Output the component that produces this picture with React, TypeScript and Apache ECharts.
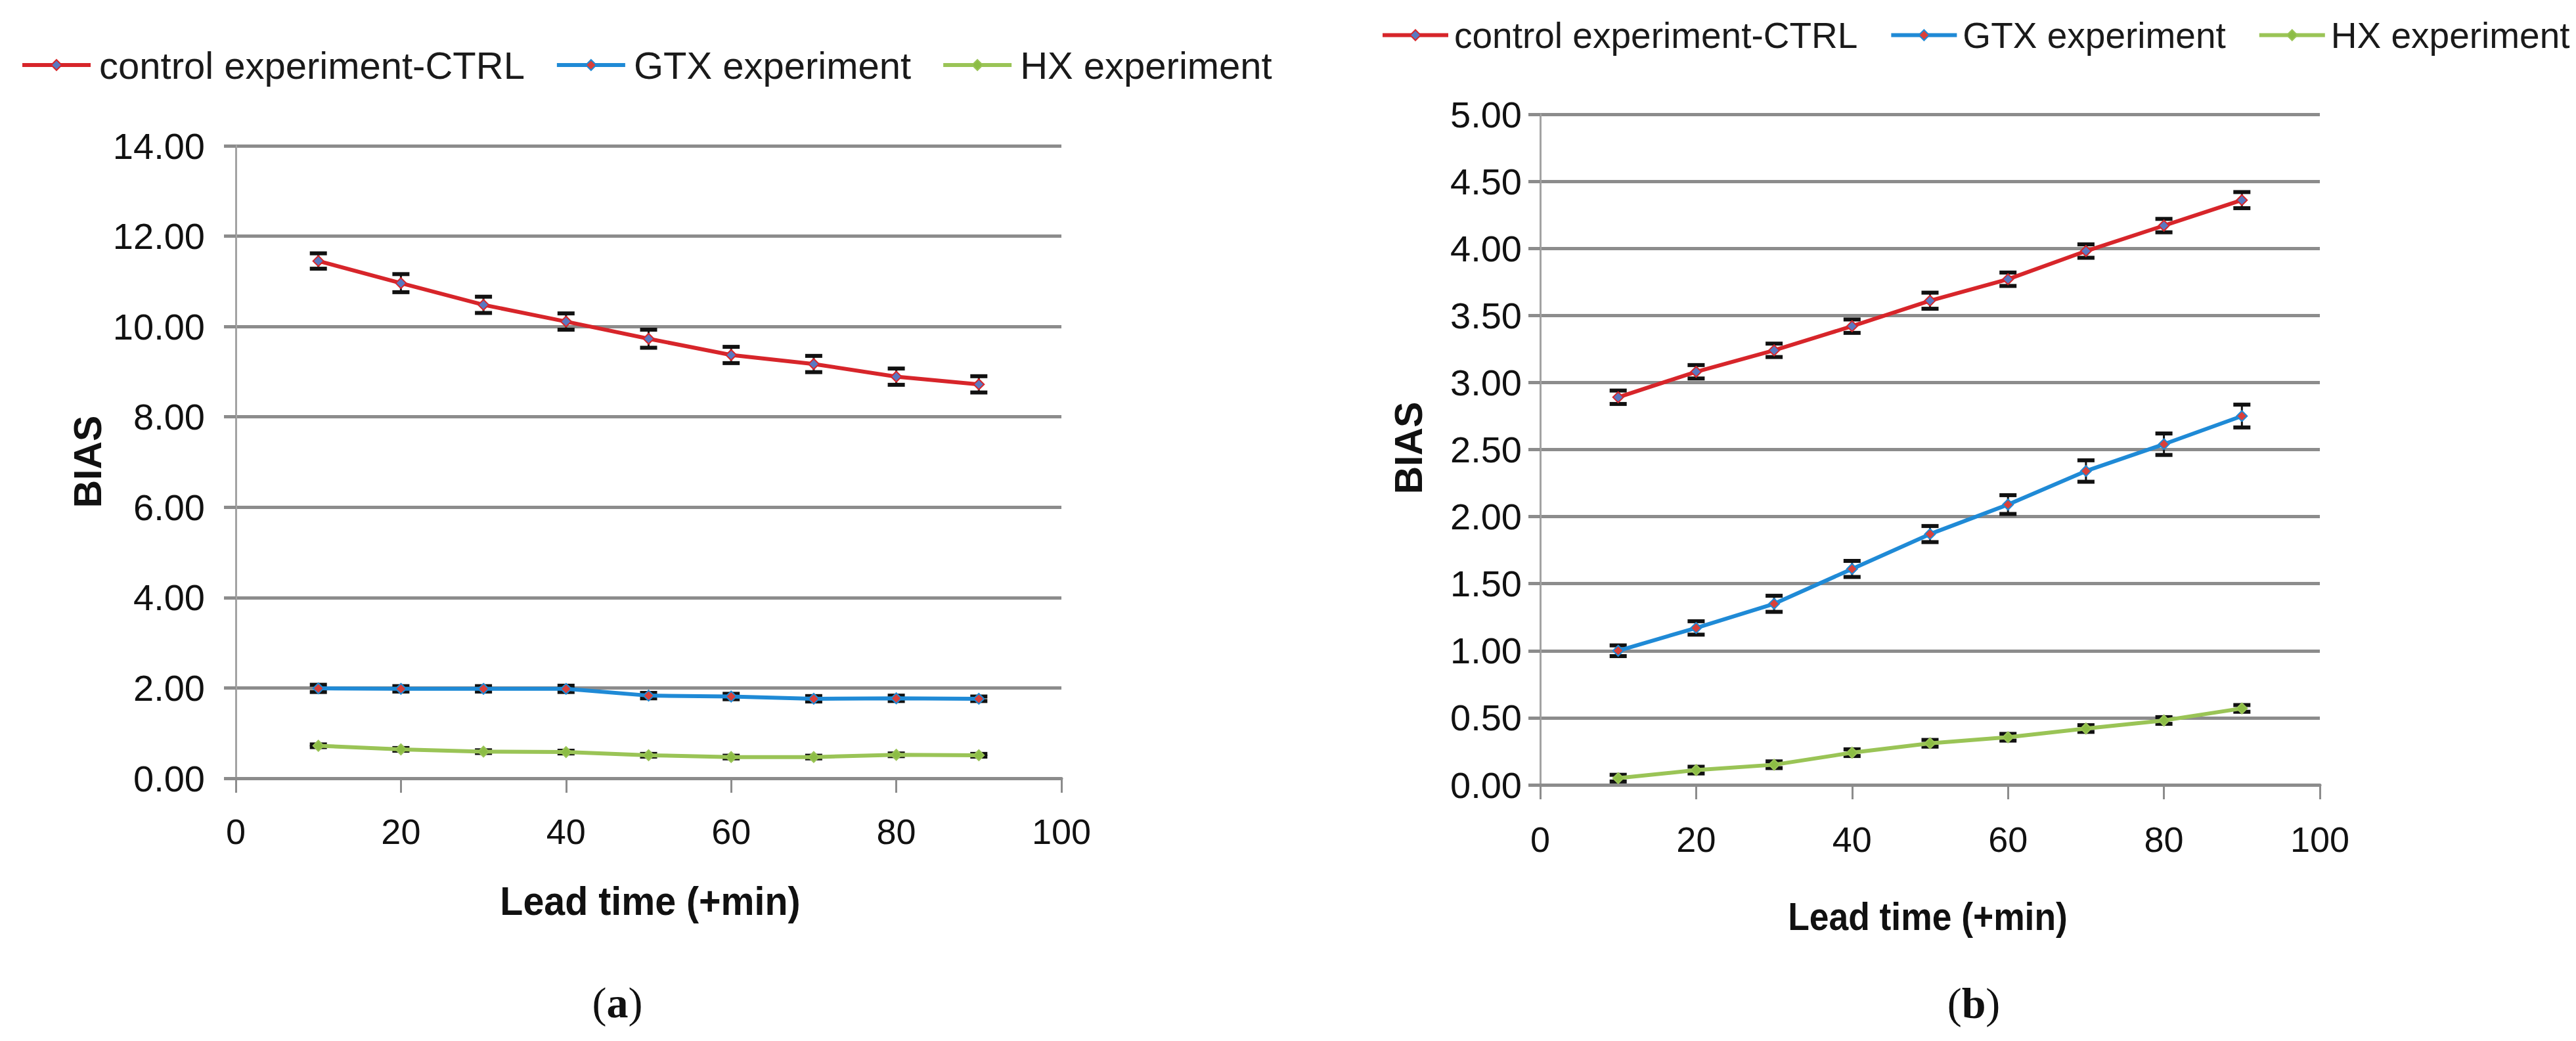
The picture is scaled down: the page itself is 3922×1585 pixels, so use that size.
import React, { useEffect, useRef } from "react";
import * as echarts from "echarts";

const leadTimes = [10, 20, 30, 40, 50, 60, 70, 80, 90];
const seriesNames = ["control experiment-CTRL", "GTX experiment", "HX experiment"];

const aCtrl = [11.45, 10.96, 10.48, 10.11, 9.73, 9.37, 9.17, 8.89, 8.72];
const aCtrlErr = [0.17, 0.2, 0.18, 0.18, 0.2, 0.18, 0.18, 0.18, 0.18];
const aGtx = [1.99, 1.98, 1.98, 1.98, 1.83, 1.81, 1.76, 1.77, 1.76];
const aGtxErr = [0.08, 0.06, 0.06, 0.07, 0.06, 0.06, 0.06, 0.06, 0.05];
const aHx = [0.72, 0.64, 0.59, 0.58, 0.51, 0.47, 0.47, 0.52, 0.51];
const aHxErr = [0.03, 0.03, 0.03, 0.03, 0.03, 0.03, 0.03, 0.03, 0.03];

const bCtrl = [2.89, 3.08, 3.24, 3.42, 3.61, 3.77, 3.98, 4.17, 4.36];
const bCtrlErr = [0.05, 0.05, 0.05, 0.05, 0.06, 0.05, 0.05, 0.05, 0.06];
const bGtx = [1.0, 1.17, 1.35, 1.61, 1.87, 2.09, 2.34, 2.54, 2.75];
const bGtxErr = [0.04, 0.05, 0.06, 0.06, 0.06, 0.07, 0.08, 0.08, 0.085];
const bHx = [0.05, 0.11, 0.15, 0.24, 0.31, 0.355, 0.42, 0.48, 0.57];
const bHxErr = [0.025, 0.025, 0.025, 0.025, 0.025, 0.025, 0.025, 0.025, 0.025];

const lineColors = ["#d7252a", "#1f8ad6", "#9ac456"];
const markerColors = ["#5a78c0", "#d9403a", "#8cbd45"];

const SANS = "'Liberation Sans', Arial, sans-serif";
const SERIF = "'Liberation Serif', 'DejaVu Serif', serif";

function pairs(ys: number[]) {
  return leadTimes.map((x, i) => [x, ys[i]]);
}
function errs(ys: number[], es: number[]) {
  return leadTimes.map((x, i) => [x, ys[i] - es[i], ys[i] + es[i]]);
}

const renderErr = (params: any, api: any) => {
  const x = api.value(0);
  const lo = api.value(1);
  const hi = api.value(2);
  const t = api.coord([x, hi]);
  const b = api.coord([x, lo]);
  const w = 13;
  const st = { stroke: "#111", lineWidth: 6 };
  return {
    type: "group",
    children: [
      { type: "line", shape: { x1: t[0], y1: t[1], x2: b[0], y2: b[1] }, style: { stroke: "#111", lineWidth: 3 } },
      { type: "line", shape: { x1: t[0] - w, y1: t[1], x2: t[0] + w, y2: t[1] }, style: st },
      { type: "line", shape: { x1: b[0] - w, y1: b[1], x2: b[0] + w, y2: b[1] }, style: st },
    ],
  };
};

function lineSeries(idx: number, name: string, ys: number[], k: number) {
  return {
    type: "line",
    name,
    xAxisIndex: idx,
    yAxisIndex: idx,
    data: pairs(ys),
    symbol: "diamond",
    symbolSize: 16,
    z: 4,
    lineStyle: { color: lineColors[k], width: 6 },
    itemStyle: { color: markerColors[k], borderColor: lineColors[k], borderWidth: 2 },
  };
}
function errSeries(idx: number, name: string, ys: number[], es: number[]) {
  return {
    type: "custom",
    name,
    xAxisIndex: idx,
    yAxisIndex: idx,
    data: errs(ys, es),
    encode: { x: 0, y: [1, 2] },
    renderItem: renderErr,
    silent: true,
    z: 3,
  };
}

const gridColor = "#8c8c8c";

function xAxisCfg(idx: number, margin: number) {
  return {
    type: "value",
    gridIndex: idx,
    min: 0,
    max: 100,
    interval: 20,
    axisLine: { show: true, onZero: false, lineStyle: { color: gridColor, width: 5 } },
    axisTick: { show: true, length: 22, lineStyle: { color: gridColor, width: 3 } },
    splitLine: { show: false },
    axisLabel: { fontFamily: SANS, fontSize: 54, color: "#111", margin },
  };
}
function yAxisCfg(idx: number, max: number, interval: number, margin: number) {
  return {
    type: "value",
    gridIndex: idx,
    min: 0,
    max,
    interval,
    axisLine: { show: true, lineStyle: { color: "#a3a3a3", width: 3 } },
    axisTick: { show: true, length: 18, lineStyle: { color: gridColor, width: 5 } },
    splitLine: { show: true, lineStyle: { color: gridColor, width: 5 } },
    axisLabel: {
      fontFamily: SANS,
      fontSize: 56,
      color: "#111",
      margin,
      formatter: (v: number) => v.toFixed(2),
    },
  };
}

function label(x: number, y: number, text: string, size: number, scaleX: number, rot = 0) {
  return {
    type: "text",
    x,
    y,
    rotation: rot,
    scaleX,
    style: {
      text,
      fontFamily: SANS,
      fontSize: size,
      fontWeight: "bold",
      fill: "#111",
      align: "center",
      verticalAlign: "middle",
    },
  };
}

function capLabel(x: number, y: number, letter: string) {
  return {
    type: "text",
    x,
    y,
    style: {
      text: "{p|(}{l|" + letter + "}{p|)}",
      align: "center",
      verticalAlign: "middle",
      rich: {
        p: { fontFamily: SERIF, fontSize: 66, fill: "#111" },
        l: { fontFamily: SERIF, fontSize: 66, fontWeight: "bold", fill: "#111" },
      },
    },
  };
}

export default function App() {
  const ref = useRef<HTMLDivElement>(null);
  useEffect(() => {
    if (!ref.current) return;
    const chart = echarts.init(ref.current, undefined, { renderer: "svg" });
    const option: any = {
      animation: false,
      backgroundColor: "#ffffff",
      legend: [
        {
          data: seriesNames,
          left: 31,
          top: 70,
          padding: 0,
          width: 1950,
          itemWidth: 104,
          itemHeight: 20,
          itemGap: 46,
          lineStyle: { width: 6 },
          textStyle: { fontFamily: SANS, fontSize: 58, color: "#1a1a1a", padding: [0, 0, 0, 8] },
        },
        {
          data: seriesNames,
          left: 2102,
          top: 26,
          padding: 0,
          width: 1818,
          itemWidth: 100,
          itemHeight: 20,
          itemGap: 48,
          lineStyle: { width: 6 },
          textStyle: { fontFamily: SANS, fontSize: 55, color: "#1a1a1a", padding: [0, 0, 0, 4] },
        },
      ],
      grid: [
        { left: 359, top: 222, width: 1257, height: 963 },
        { left: 2345, top: 174, width: 1187, height: 1021 },
      ],
      xAxis: [xAxisCfg(0, 54), xAxisCfg(1, 56)],
      yAxis: [yAxisCfg(0, 14, 2, 47), yAxisCfg(1, 5, 0.5, 28)],
      series: [
        errSeries(0, "errA0", aCtrl, aCtrlErr),
        errSeries(0, "errA1", aGtx, aGtxErr),
        errSeries(0, "errA2", aHx, aHxErr),
        lineSeries(0, seriesNames[0], aCtrl, 0),
        lineSeries(0, seriesNames[1], aGtx, 1),
        lineSeries(0, seriesNames[2], aHx, 2),
        errSeries(1, "errB0", bCtrl, bCtrlErr),
        errSeries(1, "errB1", bGtx, bGtxErr),
        errSeries(1, "errB2", bHx, bHxErr),
        lineSeries(1, seriesNames[0], bCtrl, 0),
        lineSeries(1, seriesNames[1], bGtx, 1),
        lineSeries(1, seriesNames[2], bHx, 2),
      ],
      graphic: [
        label(134, 703, "BIAS", 59, 1, Math.PI / 2),
        label(2145, 682, "BIAS", 59, 1, Math.PI / 2),
        label(990, 1372, "Lead time (+min)", 62, 0.925),
        label(2935, 1395, "Lead time (+min)", 60, 0.89),
        capLabel(940, 1526, "a"),
        capLabel(3005, 1527, "b"),
      ],
    };
    chart.setOption(option);
    return () => chart.dispose();
  }, []);
  return (
    <div
      ref={ref}
      style={{ position: "absolute", left: 0, top: 0, width: 3922, height: 1585 }}
    />
  );
}
